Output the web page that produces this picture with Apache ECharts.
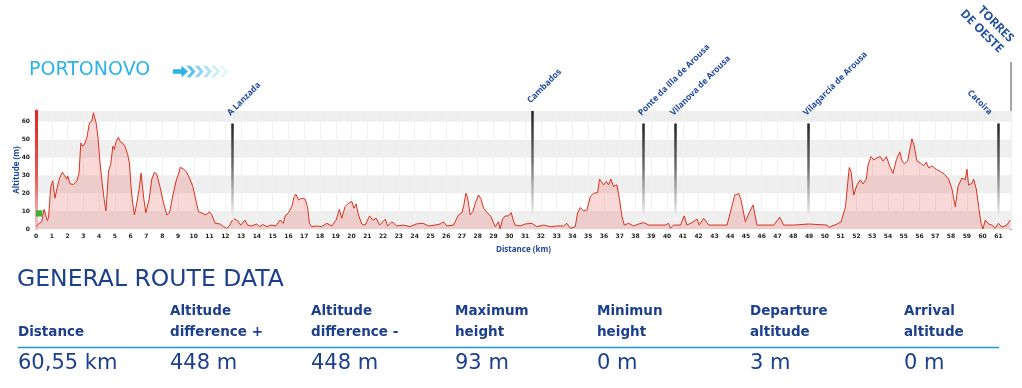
<!DOCTYPE html>
<html><head><meta charset="utf-8">
<script src="https://cdn.jsdelivr.net/npm/echarts/dist/echarts.min.js"></script>
<style>html,body{margin:0;padding:0;background:#fff}#c{width:1022px;height:388px}</style>
</head><body><div id="c"></div>
<script>
// ---- data ----
const distanceKm = [0,0.21,0.36,0.51,0.61,0.72,0.8,0.93,1.06,1.2,1.35,1.48,1.67,1.82,1.95,2.01,2.16,2.37,2.58,2.73,2.84,2.97,3.07,3.22,3.39,3.54,3.64,3.71,3.81,3.92,4.07,4.19,4.32,4.43,4.53,4.6,4.74,4.87,4.97,5.08,5.22,5.33,5.5,5.64,5.81,5.92,6.02,6.13,6.24,6.38,6.53,6.66,6.72,6.81,6.96,7.06,7.17,7.34,7.51,7.66,7.87,8.08,8.29,8.46,8.67,8.88,9.03,9.14,9.31,9.52,9.73,9.94,10.15,10.3,10.51,10.72,10.86,10.99,11.14,11.35,11.67,11.88,12.09,12.26,12.51,12.77,12.98,13.25,13.4,13.66,13.99,14.15,14.4,14.63,14.9,15.2,15.47,15.68,15.79,16.0,16.21,16.36,16.47,16.64,16.85,17.06,17.21,17.33,17.48,17.8,18.11,18.43,18.75,19.02,19.23,19.38,19.59,19.8,20.02,20.16,20.29,20.44,20.65,20.86,21.14,21.35,21.56,21.78,22.14,22.28,22.56,22.87,23.3,23.7,24.1,24.52,24.9,25.3,25.62,25.83,26.04,26.46,26.78,26.99,27.1,27.25,27.35,27.52,27.69,27.84,28.05,28.2,28.37,28.62,28.83,29.11,29.32,29.42,29.57,29.74,29.95,30.12,30.25,30.37,30.69,31.0,31.43,31.74,32.17,32.6,33.02,33.44,33.65,33.86,34.18,34.33,34.5,34.71,34.92,35.13,35.34,35.6,35.72,35.81,35.98,36.15,36.29,36.44,36.61,36.82,36.99,37.14,37.29,37.56,37.88,38.2,38.52,38.84,39.37,39.89,40.1,40.21,40.42,40.85,41.09,41.26,41.58,41.9,42.04,42.32,42.64,43.16,43.8,44.05,44.29,44.54,44.69,44.96,45.24,45.45,45.7,45.9,46.76,47.14,47.39,48.03,48.98,50.14,50.25,50.78,51.03,51.31,51.45,51.55,51.66,51.83,52.04,52.25,52.42,52.63,52.74,52.93,53.1,53.31,53.52,53.69,53.9,54.11,54.32,54.54,54.75,54.9,55.04,55.25,55.52,55.67,55.84,56.05,56.26,56.43,56.58,56.79,57.06,57.32,57.57,57.85,58.06,58.27,58.44,58.69,58.9,59.01,59.11,59.33,59.43,59.6,59.75,59.9,60.02,60.17,60.38,60.59,60.8,61.01,61.22,61.54,61.75];
const altitudeM = [1.5,3.2,4,11,10.6,4.7,6.6,23.4,27,17.2,23.4,28.1,31.8,29.7,27.9,29.7,25.3,24.9,26.6,31.3,48.1,46.3,47.5,50.9,59.4,60.3,65,65.4,59.4,52,36,26,16.6,10.1,22.3,32.5,36.3,46.3,44.5,49,51.3,49,48,46.3,41.6,37,23.8,14.4,7.9,14,22,31.3,31.7,18.5,9,7.9,16.6,27.9,31.7,30.7,23.2,14.8,7.9,9,18.5,26.9,30.7,34.4,33.8,32.2,28.5,23.8,15.4,9.7,9,8,8.4,9.7,8,3.2,2.8,1.3,0.4,1.7,6,4.7,2.2,5,2.2,1.7,2.8,1.3,2.5,1.3,2.2,1.7,5,3.2,7.3,9,12.5,18,19.5,16.3,17.2,16.7,12.5,3.2,1.3,1.7,1.3,3.2,1.7,5,11,6,12.5,14.4,15.4,11.6,14,7.9,2.8,2.2,7.3,5,6,2.2,5.5,1.7,4,1.7,2.2,1.3,2.8,3.2,1.7,2.2,2.8,4,1.7,2.2,7.9,9,12.5,20,18,7.9,9.7,14.4,19,17,11.6,9,7,1.3,4,0,5.5,7.3,7.3,9.2,5,2.2,1.7,2.8,3.2,1.3,2.2,1.3,1.7,1.7,3.2,0.4,1.3,9,12,10.1,10.6,18,20,20.4,27.9,28.5,24.7,26.6,24.7,27.9,23.8,24.7,16.3,7,2.2,3.2,1.7,2.8,3.6,2.2,2.2,2.2,3.2,0.4,2.2,2.2,7.3,2.2,3.6,5.5,2.2,6,2.2,2.2,2.2,10.6,19,19.8,16.3,4,9.7,13.5,2.2,2.2,2.2,6.6,2.2,2.2,2.8,2.2,0.9,2.8,4,12.5,25.6,34.4,32.2,19,24.7,27.5,25.2,27.9,36,40.5,38.6,39.9,40.5,38,40.5,35.3,31.1,39,43.1,38,36.5,38,50.5,46.3,38,37,35.3,37.4,34.2,35.3,33.4,32.2,30.7,27.9,22.3,12.5,23.8,28.5,27.5,33.4,24.5,25.6,27.9,22.3,12.5,3.2,0,5,2.8,2.2,0.4,3.2,1,2.2,5];
const waypointNames = ['A Lanzada','Cambados','Ponte da illa de Arousa','Vilanova de Arousa','Vilagarcía de Arousa','Catoira'];
const waypointKm = [12.45, 31.47, 38.5, 40.54, 48.97, 61.0];
const waypointTopM = [59, 66, 59, 59, 59, 59];
const waypointBottomM = 5;
const startArea = [[0, 7], [0.4, 10.5]];
const yTicks = [0, 10, 20, 30, 40, 50, 60];
const headerLine1 = ['', 'Altitude', 'Altitude', 'Maximum', 'Minimun', 'Departure', 'Arrival'];
const headerLine2 = ['Distance', 'difference +', 'difference -', 'height', 'height', 'altitude', 'altitude'];
const summaryValues = ['60,55 km', '448 m', '448 m', '93 m', '0 m', '3 m', '0 m'];
const startName = 'PORTONOVO';
const endName = 'TORRES\nDE OESTE';
const tableTitle = 'GENERAL ROUTE DATA';
const xMax = 61.8, yMax = 66;

// ---- layout ----
const W = 1022;
const G = {left: 36, right: 11, top: 111, bottom: 159};
const colX = [18, 170, 311, 455, 597, 750, 904];
const blue = '#1c3f8e', labelBlue = '#23489d', cyan = '#2bb3e8';

const chart = echarts.init(document.getElementById('c'), null, {renderer: 'canvas'});
const LG = echarts.graphic.LinearGradient;

const graphics = [];
graphics.push({type: 'text', x: 29, y: 70.5, style: {text: startName, fill: cyan, font: '19px "DejaVu Sans"', verticalAlign: 'middle'}});
graphics.push({type: 'polygon', shape: {points: [[173,69.2],[181.5,69.2],[181.5,65.7],[188,71.5],[181.5,77.3],[181.5,73.8],[173,73.8]]}, style: {fill: cyan}});
const chevColors = ['#5cc4ec', '#8dd5f2', '#b0e2f6', '#cdeef9', '#e4f5fc'];
chevColors.forEach((c, i) => {
  const x0 = 186.5 + i * 8.2;
  graphics.push({type: 'polygon', shape: {points: [[x0,65.7],[x0+4,65.7],[x0+9,71.5],[x0+4,77.3],[x0,77.3],[x0+5,71.5]]}, style: {fill: c}});
});
graphics.push({type: 'text', x: 1017, y: 35, rotation: -Math.PI / 4, style: {text: endName, fill: '#22509f', font: 'bold 12px "Noto Sans"', align: 'right', verticalAlign: 'top', lineHeight: 15}});
graphics.push({type: 'line', shape: {x1: W - G.right, y1: 62, x2: W - G.right, y2: 388 - G.bottom + 1}, style: {stroke: '#8a8486', lineWidth: 1.5}});
graphics.push({type: 'text', x: 17, y: 280, style: {text: tableTitle, fill: blue, font: '23.5px "DejaVu Sans"', verticalAlign: 'middle'}});
colX.forEach((x, i) => {
  if (headerLine1[i]) graphics.push({type: 'text', x: x, y: 311, style: {text: headerLine1[i], fill: blue, font: 'bold 13.5px "DejaVu Sans"', verticalAlign: 'middle'}});
  graphics.push({type: 'text', x: x, y: 332, style: {text: headerLine2[i], fill: blue, font: 'bold 13.5px "DejaVu Sans"', verticalAlign: 'middle'}});
  graphics.push({type: 'text', x: x, y: 364, style: {text: summaryValues[i], fill: blue, font: '21px "DejaVu Sans"', verticalAlign: 'middle'}});
});
graphics.push({type: 'line', shape: {x1: 18, y1: 347.5, x2: 999, y2: 347.5}, style: {stroke: '#1a96d9', lineWidth: 1.5}});

const option = {
  animation: false,
  backgroundColor: '#ffffff',
  grid: Object.assign({containLabel: false, outerBoundsMode: 'none'}, G),
  xAxis: {
    type: 'value', min: 0, max: xMax, interval: 1,
    axisLine: {show: false}, axisTick: {show: false},
    axisLabel: {fontSize: 6, fontWeight: 'bold', color: '#222', margin: 4, fontFamily: 'DejaVu Sans',
      formatter: v => Number.isInteger(v) ? String(v) : ''},
    splitLine: {show: true, lineStyle: {color: '#f1f1f1', width: 1}},
    name: 'Distance (km)', nameLocation: 'middle', nameGap: 17, nameMoveOverlap: false,
    nameTextStyle: {color: labelBlue, fontSize: 8, fontWeight: 'bold', fontFamily: 'Noto Sans'}
  },
  yAxis: {
    type: 'value', min: 0, max: yMax, interval: 10, offset: 2,
    axisLine: {show: true, lineStyle: {width: 3, color: new LG(0, 0, 0, 1, [
      {offset: 0, color: '#e3231b'}, {offset: 0.55, color: '#ea5a54'}, {offset: 1, color: '#f7d2d2'}])}},
    axisTick: {show: false},
    axisLabel: {fontSize: 6, fontWeight: 'bold', color: '#222', margin: 4, fontFamily: 'DejaVu Sans',
      formatter: v => yTicks.indexOf(v) >= 0 ? String(v) : ''},
    splitLine: {show: false},
    splitArea: {show: true, areaStyle: {color: ['#efefef', '#ffffff']}},
    name: 'Altitude (m)', nameLocation: 'middle', nameGap: 13, nameRotate: 90, nameMoveOverlap: false,
    nameTextStyle: {color: labelBlue, fontSize: 8, fontWeight: 'bold', fontFamily: 'Noto Sans'}
  },
  series: [
    {
      type: 'line', silent: true, symbol: 'none', showSymbol: false, z: 3,
      data: distanceKm.map((d, i) => [d, altitudeM[i]]),
      lineStyle: {color: '#d8321f', width: 1},
      areaStyle: {color: 'rgba(232,110,110,0.38)'},
      markArea: {silent: true, itemStyle: {color: '#3fae3f'}, data: [[{coord: startArea[0]}, {coord: startArea[1]}]]},
      markLine: {
        silent: true, symbol: ['none', 'none'], label: {show: false},
        lineStyle: {type: 'solid', width: 2.5, color: new LG(0, 0, 0, 1, [
          {offset: 0, color: '#1e1e1e'}, {offset: 0.45, color: '#6e6e6e'}, {offset: 1, color: 'rgba(255,255,255,0.9)'}])},
        data: waypointKm.map((k, i) => [{coord: [k, waypointTopM[i]]}, {coord: [k, waypointBottomM]}])
      }
    }
  ],
  graphic: graphics
};
chart.setOption(option);

// waypoint labels placed at the pixel of each marker top
const last = waypointNames.length - 1;
waypointNames.forEach((n, i) => {
  const p = chart.convertToPixel({xAxisIndex: 0, yAxisIndex: 0}, [waypointKm[i], waypointTopM[i]]);
  const endLabel = i === last;
  graphics.push({
    type: 'text', z: 10,
    x: p[0] + (endLabel ? -11 : -0.5), y: p[1] + (endLabel ? -7 : -6),
    rotation: endLabel ? -Math.PI / 4 : Math.PI / 4,
    style: {text: n, fill: labelBlue, font: 'bold 8.5px "Noto Sans"', align: endLabel ? 'right' : 'left', verticalAlign: 'bottom'}
  });
});
chart.setOption({graphic: graphics});
</script></body></html>
